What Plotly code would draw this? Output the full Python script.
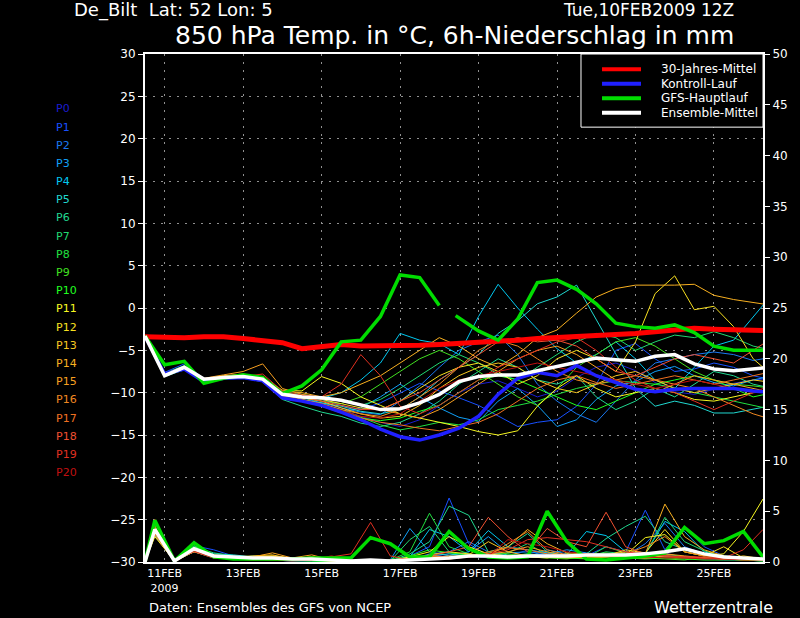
import plotly.graph_objects as go
import pandas as pd

# ---------------- data ----------------
start = pd.Timestamp("2009-02-10 12:00")
temp_hours = list(range(0, 385, 12))
precip_hours = [0] + list(range(6, 379, 12))
gfs_hours = list(range(0, 181, 12)) + [184, 190] + list(range(204, 385, 12))

member_names = ["P%d" % i for i in range(21)]
member_colors = ["#1c1cd0", "#1850ff", "#1a78f0", "#10a0f8", "#00c8f0", "#20d8d0", "#20d890",
                 "#20d870", "#20e040", "#40e020", "#20ff20", "#f8f820", "#f8e020", "#f8c820",
                 "#f8b020", "#f8a020", "#f08820", "#f07020", "#f05030", "#e03020", "#c01010"]

member_temp = [
    [-3.3,-7.8,-7.1,-8.5,-8.2,-8.0,-8.6,-10.4,-10.8,-11.3,-12.0,-12.8,-13.5,-14.0,-13.2,-11.5,-10.0,-9.0,-8.6,-9.5,-10.5,-9.8,-8.2,-7.0,-6.5,-7.4,-8.8,-9.9,-10.2,-9.6,-8.9,-8.5,-8.3],
    [-3.3,-7.6,-6.6,-8.3,-8.1,-8.1,-8.4,-10.2,-10.5,-10.8,-11.5,-12.0,-11.2,-10.0,-8.9,-9.8,-10.6,-11.5,-12.8,-14.0,-13.5,-13.2,-11.6,-9.0,-5.0,-4.2,-6.0,-7.5,-7.2,-6.5,-7.0,-8.0,-8.5],
    [-3.3,-8.0,-7.2,-8.7,-8.3,-8.2,-8.3,-10.1,-10.6,-11.2,-11.8,-12.3,-12.6,-11.0,-9.2,-7.0,-5.0,-4.0,-3.2,-5.5,-9.0,-11.0,-12.5,-13.5,-11.0,-8.5,-6.5,-6.0,-5.5,-5.2,-5.5,-6.2,-5.8],
    [-3.3,-7.9,-7.0,-8.6,-8.2,-8.0,-8.5,-10.4,-10.9,-11.5,-12.3,-11.8,-10.5,-9.0,-10.5,-11.8,-12.9,-13.4,-11.0,-9.5,-11.5,-14.0,-13.2,-10.8,-9.2,-8.7,-7.5,-6.9,-8.0,-8.8,-9.2,-8.5,-8.0],
    [-3.3,-7.8,-6.9,-8.5,-8.1,-8.0,-8.4,-10.0,-10.3,-10.7,-10.0,-8.5,-6.5,-3.0,-3.8,-4.2,-5.5,-1.0,2.8,0.0,-2.5,-4.8,-6.5,-5.5,-4.0,-6.0,-8.5,-9.5,-7.0,-4.5,-3.8,-1.0,1.7],
    [-3.3,-7.9,-7.1,-8.6,-8.3,-8.1,-8.5,-10.3,-10.8,-11.2,-11.6,-12.2,-12.5,-12.0,-10.5,-8.5,-7.0,-5.5,-3.0,-1.5,0.5,1.3,2.7,-1.4,-5.5,-9.5,-11.6,-11.0,-11.5,-12.4,-12.4,-12.0,-11.5],
    [-3.3,-8.1,-7.3,-8.8,-8.4,-8.3,-8.7,-10.8,-11.6,-12.3,-12.8,-13.6,-14.0,-13.5,-12.5,-11.0,-9.0,-7.5,-6.0,-7.0,-8.5,-9.0,-8.0,-10.5,-12.0,-11.0,-9.5,-10.5,-9.0,-7.5,-8.0,-9.0,-9.5],
    [-3.3,-7.7,-6.8,-8.4,-8.0,-7.9,-8.2,-9.9,-10.2,-10.6,-11.0,-11.5,-10.8,-9.5,-8.0,-6.5,-5.5,-6.5,-7.8,-8.5,-7.0,-5.5,-4.0,-3.0,-3.5,-5.0,-4.0,-3.2,-3.5,-2.8,-3.5,-4.5,-5.0],
    [-3.3,-7.9,-7.0,-8.6,-8.2,-8.1,-8.5,-10.5,-10.9,-11.4,-12.0,-12.9,-13.8,-14.4,-14.0,-13.5,-13.8,-13.2,-12.0,-11.5,-11.0,-10.2,-9.5,-9.0,-8.6,-8.8,-9.0,-9.4,-10.0,-10.5,-11.0,-11.5,-12.0],
    [-3.3,-7.8,-7.0,-8.5,-8.1,-8.0,-8.4,-10.2,-10.6,-11.0,-11.3,-10.5,-9.0,-7.5,-6.0,-5.0,-6.0,-7.5,-9.0,-10.5,-11.5,-9.5,-7.0,-5.5,-4.0,-3.5,-4.5,-6.0,-7.5,-8.5,-9.0,-9.2,-9.5],
    [-3.3,-8.0,-7.2,-8.7,-8.3,-8.2,-8.6,-10.5,-11.0,-11.6,-12.4,-13.0,-13.3,-13.0,-12.2,-11.5,-10.0,-8.5,-8.0,-8.5,-9.5,-10.5,-11.5,-12.0,-11.0,-10.0,-9.0,-8.5,-8.0,-8.5,-9.5,-10.5,-10.0],
    [-3.3,-7.9,-7.1,-8.6,-8.2,-8.1,-8.2,-9.7,-9.8,-8.1,-8.9,-10.5,-11.5,-12.5,-13.0,-13.5,-14.0,-14.6,-15.0,-14.5,-11.6,-9.5,-8.0,-9.5,-10.5,-10.0,-9.5,-10.0,-10.8,-11.0,-10.5,-10.0,-9.8],
    [-3.3,-7.8,-7.0,-8.5,-8.1,-8.0,-8.3,-10.0,-10.4,-10.8,-11.3,-11.8,-12.0,-11.0,-9.5,-8.0,-7.0,-6.5,-7.5,-9.0,-8.0,-6.0,-5.0,-6.0,-7.5,-4.0,1.7,3.8,-0.2,0.2,-2.2,-6.0,-8.0],
    [-3.3,-7.9,-7.1,-8.6,-8.2,-8.1,-8.5,-10.2,-10.6,-11.0,-11.8,-12.5,-13.0,-12.8,-11.5,-9.5,-8.0,-7.0,-6.5,-7.0,-8.5,-9.5,-10.0,-9.0,-8.0,-7.5,-8.5,-9.5,-10.0,-9.5,-9.0,-8.5,-8.8],
    [-3.3,-7.8,-6.9,-8.4,-8.0,-7.8,-8.2,-9.8,-10.0,-10.5,-10.0,-9.0,-8.0,-6.5,-5.0,-3.5,-4.5,-6.0,-7.0,-5.5,-3.5,-2.6,-0.6,1.3,2.3,2.7,2.7,2.7,2.8,1.5,1.0,0.6,0.3],
    [-3.3,-7.8,-6.9,-8.3,-7.9,-7.5,-6.6,-9.5,-10.2,-10.6,-11.0,-11.5,-12.0,-12.5,-13.0,-12.0,-10.5,-9.0,-7.5,-6.0,-5.0,-4.5,-5.5,-7.0,-8.5,-9.5,-10.0,-9.0,-8.0,-8.5,-9.0,-9.5,-10.0],
    [-3.3,-7.9,-7.0,-8.6,-8.2,-8.1,-8.4,-10.3,-10.8,-11.3,-12.0,-12.5,-12.8,-12.0,-10.5,-9.0,-7.0,-5.0,-3.8,-4.5,-6.0,-7.5,-8.5,-9.0,-8.5,-8.0,-8.5,-9.0,-9.5,-10.5,-11.5,-12.5,-13.2],
    [-3.3,-8.0,-7.2,-8.7,-8.3,-8.2,-8.6,-10.5,-11.0,-11.5,-12.2,-13.0,-13.5,-13.8,-14.2,-14.5,-14.0,-13.5,-12.5,-11.0,-9.5,-8.5,-8.0,-8.8,-9.5,-9.0,-8.5,-8.0,-8.5,-9.0,-8.5,-8.0,-7.5],
    [-3.3,-7.8,-7.0,-8.5,-8.1,-8.0,-8.5,-10.1,-10.5,-11.0,-11.5,-12.0,-12.0,-11.0,-10.0,-8.5,-7.0,-5.5,-4.0,-3.5,-4.0,-3.8,-4.5,-6.0,-7.5,-8.0,-7.0,-6.0,-5.5,-6.0,-6.5,-5.0,-3.5],
    [-3.3,-7.9,-7.1,-8.6,-8.2,-8.1,-7.8,-9.8,-10.3,-10.5,-9.0,-5.5,-8.0,-11.6,-12.5,-11.5,-10.0,-8.5,-7.0,-6.0,-5.0,-4.0,-3.5,-5.0,-7.0,-8.5,-9.5,-10.0,-11.0,-12.0,-11.0,-10.0,-9.5],
    [-3.3,-7.8,-7.0,-8.5,-8.2,-8.0,-8.5,-10.4,-10.9,-11.4,-12.1,-12.8,-13.0,-12.5,-11.0,-9.5,-8.5,-8.0,-7.5,-7.0,-6.5,-7.0,-7.5,-8.0,-8.5,-9.0,-9.5,-9.0,-8.5,-9.0,-9.5,-10.0,-9.0],
]

member_precip = [
    [0,3.2,0.1,1.1,0.4,0.3,0.3,0.2,0.1,0.2,0.1,0.0,0.0,0.1,0.3,0.5,0.8,0.6,0.4,0.5,1.2,0.9,0.6,0.4,0.8,0.6,0.5,0.9,0.4,0.3,0.2,0.2,0.1],
    [0,2.8,0.0,1.6,1.2,0.6,0.3,0.2,0.1,0.1,0.0,0.0,0.0,0.1,0.6,1.5,6.3,1.8,0.6,0.5,0.8,0.7,0.5,0.6,1.5,1.0,5.1,1.2,3.5,1.5,0.6,0.3,0.2],
    [0,3.0,0.2,1.2,0.5,0.4,0.3,0.2,0.3,0.4,0.2,0.1,0.0,0.0,0.2,0.8,1.0,2.0,1.0,0.6,0.5,1.2,0.8,0.6,0.5,0.6,1.8,3.8,1.5,0.8,0.4,0.3,0.2],
    [0,2.6,0.1,1.0,0.5,0.4,0.6,0.5,0.3,0.2,0.1,0.0,0.0,0.2,3.3,1.0,0.6,1.0,2.5,0.9,1.0,0.8,1.2,0.9,0.7,0.6,0.8,0.5,0.5,0.3,0.6,0.4,0.2],
    [0,3.1,0.1,1.3,0.6,0.5,0.4,0.3,0.2,0.2,0.1,0.0,0.0,0.1,0.5,3.2,2.5,1.0,3.1,1.5,1.2,0.9,0.7,3.0,2.6,1.0,0.8,4.0,3.0,1.0,0.5,0.4,0.3],
    [0,2.7,0.0,1.4,0.8,0.7,0.5,0.4,0.3,0.2,0.2,0.1,0.0,0.0,0.3,0.6,0.8,0.5,1.0,0.7,0.6,0.5,0.4,0.4,0.6,0.5,0.8,0.6,0.5,0.4,0.3,0.3,0.2],
    [0,3.4,0.2,1.5,0.9,0.6,0.4,0.3,0.2,0.2,0.1,0.1,0.0,0.1,0.8,2.0,5.5,4.6,1.0,1.5,2.8,1.0,0.6,0.8,2.3,3.5,4.5,2.0,1.2,0.8,0.6,0.4,0.3],
    [0,2.9,0.1,1.0,0.4,0.3,0.2,0.2,0.2,0.3,0.1,0.0,0.0,0.1,2.2,3.5,1.0,0.6,0.5,0.9,1.8,0.7,0.5,0.5,1.0,0.8,0.7,4.4,2.0,1.1,0.5,0.3,0.2],
    [0,3.6,0.0,1.3,0.6,0.5,0.3,0.2,0.1,0.1,0.0,0.0,0.0,0.2,1.0,4.8,1.5,0.8,0.5,0.6,0.8,0.6,0.5,0.4,1.5,0.9,0.6,0.8,0.5,0.4,0.3,0.2,0.2],
    [0,3.3,0.2,1.1,0.5,0.4,0.3,0.4,0.3,0.2,0.1,0.0,0.0,0.0,0.2,0.5,0.4,0.6,1.0,0.8,0.5,0.4,0.3,0.6,0.9,0.5,0.4,0.3,0.2,0.5,0.3,0.2,0.1],
    [0,3.9,0.1,1.6,0.7,0.5,0.3,0.2,0.2,0.1,0.1,0.0,0.0,0.1,0.6,1.2,0.9,0.7,0.5,0.4,0.6,0.5,0.4,0.3,0.5,0.4,0.3,0.4,0.3,0.2,0.2,0.2,0.1],
    [0,2.5,0.1,1.2,0.5,0.4,0.4,0.5,0.3,0.5,0.2,0.0,0.0,0.1,0.5,1.0,2.5,1.5,0.8,0.6,0.5,0.4,0.8,0.6,0.5,0.7,2.4,2.7,1.0,0.6,0.8,3.0,6.2],
    [0,3.0,0.0,1.4,0.6,0.5,0.5,0.6,0.4,0.3,0.1,0.0,0.0,0.0,0.3,0.7,1.0,0.8,0.6,0.5,0.7,0.6,0.5,0.4,0.6,1.2,0.9,3.2,1.0,0.6,1.5,0.4,0.3],
    [0,2.8,0.1,1.0,0.5,0.5,0.6,0.7,0.3,0.2,0.1,0.0,0.0,0.1,0.4,0.6,0.5,0.7,2.0,1.0,0.6,0.5,0.4,0.5,0.6,0.5,0.4,0.6,0.5,0.4,0.3,0.6,0.3],
    [0,3.1,0.2,1.3,0.7,0.5,0.4,0.6,0.3,0.5,0.2,0.1,0.0,0.1,0.2,0.4,0.6,0.5,0.8,1.5,3.2,1.8,0.9,0.8,0.7,1.0,0.8,5.7,2.5,1.2,0.6,0.4,0.3],
    [0,3.3,0.1,1.2,0.6,0.4,0.5,0.9,0.4,0.7,0.2,0.0,0.0,0.2,0.3,0.5,0.4,0.6,0.8,1.0,1.5,1.0,0.6,0.4,0.5,0.6,0.5,0.8,0.6,0.4,0.3,0.2,0.2],
    [0,2.7,0.0,1.1,0.5,0.4,0.3,0.4,0.3,0.4,0.2,0.0,0.0,0.1,0.2,0.4,0.3,0.5,0.6,1.8,3.0,1.2,0.7,0.5,0.6,0.8,1.5,2.5,1.0,0.6,0.4,0.3,0.3],
    [0,3.5,0.1,1.4,0.6,0.4,0.3,0.3,0.2,0.3,0.4,0.1,0.0,0.1,0.3,0.6,0.5,0.6,1.0,1.4,1.2,0.8,0.6,0.5,0.6,0.5,0.4,0.5,0.4,0.4,0.3,0.3,0.2],
    [0,3.0,0.2,1.0,0.4,0.3,0.2,0.3,0.2,0.2,0.3,0.1,0.0,0.0,0.3,0.6,1.0,1.5,4.4,2.5,1.0,3.3,2.0,1.5,4.9,1.5,0.8,0.6,0.5,0.4,0.3,0.4,0.3],
    [0,4.2,0.0,1.3,0.5,0.4,0.3,0.2,0.2,0.3,0.5,0.8,3.9,0.6,0.2,0.4,0.3,0.5,0.8,1.2,2.2,2.4,2.2,2.0,1.5,1.0,0.8,0.6,0.5,0.5,0.4,1.2,3.2],
    [0,2.9,0.1,1.1,0.4,0.3,0.2,0.2,0.1,0.2,0.6,0.2,0.0,0.1,0.2,0.3,0.4,0.5,0.6,2.2,1.8,1.5,1.0,0.8,0.7,0.6,0.5,0.4,0.4,0.3,0.3,0.2,0.2],
]

climate_temp = [-3.4,-3.5,-3.5,-3.4,-3.4,-3.6,-3.8,-4.1,-4.8,-4.6,-4.3,-4.5,-4.5,-4.5,-4.4,-4.3,-4.2,
                -4.1,-4.0,-3.8,-3.6,-3.5,-3.3,-3.2,-3.1,-3.0,-2.8,-2.6,-2.4,-2.5,-2.6,-2.6,-2.7]
control_temp = [-3.3,-7.8,-7.2,-8.7,-8.3,-8.2,-8.6,-10.6,-11.0,-11.5,-12.3,-13.2,-14.3,-15.2,-15.6,-15.0,-14.2,
                -12.8,-10.2,-8.3,-7.6,-8.0,-6.8,-8.0,-8.8,-9.6,-9.9,-9.6,-9.5,-9.5,-9.5,-9.8,-10.0]
gfs_temp = [-3.3,-6.7,-6.3,-8.9,-8.3,-7.9,-8.2,-10.1,-9.2,-7.3,-4.0,-3.8,-1.0,3.9,3.6,0.3,None,-0.9,
            -2.7,-3.8,-1.3,3.0,3.3,2.2,0.5,-1.8,-2.2,-2.4,-2.0,-2.9,-4.5,-5.0,-5.0,-5.0]
mean_temp = [-3.3,-8.0,-7.0,-8.4,-8.2,-8.1,-8.4,-10.2,-10.5,-10.6,-10.9,-11.5,-12.0,-11.9,-11.2,-10.2,-8.7,
             -8.1,-7.9,-7.9,-7.4,-6.9,-6.3,-5.9,-6.1,-6.3,-5.7,-5.5,-6.6,-7.2,-7.4,-7.2,-7.0]
gfs_precip = [0,4.1,0.1,1.9,0.5,0.3,0.3,0.3,0.3,0.4,0.4,0.4,2.4,1.8,0.5,0.5,3.0,1.3,0.5,0.4,0.5,5.0,2.0,
              0.3,0.2,0.4,0.6,0.9,3.4,1.8,2.1,3.0,0.5]
mean_precip = [0,3.2,0.1,1.3,0.6,0.5,0.4,0.4,0.3,0.3,0.2,0.1,0.2,0.1,0.2,0.3,0.4,0.6,0.6,0.5,0.6,0.6,0.6,
               0.7,0.7,0.7,0.8,1.0,1.3,0.8,0.5,0.4,0.3]

legend_labels = ["30-Jahres-Mittel", "Kontroll-Lauf", "GFS-Hauptlauf", "Ensemble-Mittel"]
legend_colors = ["#ff0000", "#2020ff", "#00dd00", "#ffffff"]

xtick_dates = ["2009-02-11", "2009-02-13", "2009-02-15", "2009-02-17", "2009-02-19",
               "2009-02-21", "2009-02-23", "2009-02-25"]
xtick_text = ["11FEB<br>2009", "13FEB", "15FEB", "17FEB", "19FEB", "21FEB", "23FEB", "25FEB"]

# ---------------- figure ----------------
def to_dates(hours):
    return [start + pd.Timedelta(hours=h) for h in hours]

tx = to_dates(temp_hours)
px = to_dates(precip_hours)
gx = to_dates(gfs_hours)

fig = go.Figure()
for name, col, t, p in zip(member_names, member_colors, member_temp, member_precip):
    fig.add_trace(go.Scatter(x=tx, y=t, mode="lines", line=dict(color=col, width=1),
                             name=name, showlegend=False, hoverinfo="skip"))
    fig.add_trace(go.Scatter(x=px, y=p, mode="lines", line=dict(color=col, width=1),
                             name=name, showlegend=False, hoverinfo="skip", yaxis="y2"))

fig.add_trace(go.Scatter(x=tx, y=control_temp, mode="lines", line=dict(color=legend_colors[1], width=3.5),
                         showlegend=False, hoverinfo="skip"))
fig.add_trace(go.Scatter(x=tx, y=climate_temp, mode="lines", line=dict(color=legend_colors[0], width=5),
                         showlegend=False, hoverinfo="skip"))
fig.add_trace(go.Scatter(x=px, y=gfs_precip, mode="lines", line=dict(color=legend_colors[2], width=3.5),
                         showlegend=False, hoverinfo="skip", yaxis="y2"))
fig.add_trace(go.Scatter(x=gx, y=gfs_temp, mode="lines", line=dict(color=legend_colors[2], width=3.5),
                         showlegend=False, hoverinfo="skip", connectgaps=False))
fig.add_trace(go.Scatter(x=px, y=mean_precip, mode="lines", line=dict(color=legend_colors[3], width=3.5),
                         showlegend=False, hoverinfo="skip", yaxis="y2"))
fig.add_trace(go.Scatter(x=tx, y=mean_temp, mode="lines", line=dict(color=legend_colors[3], width=3.5),
                         showlegend=False, hoverinfo="skip"))

FONT = "DejaVu Sans"
fig.update_layout(
    width=800, height=618,
    paper_bgcolor="black", plot_bgcolor="black",
    margin=dict(l=145, r=37, t=54, b=56),
    font=dict(family=FONT, color="white", size=11),
    showlegend=False,
    xaxis=dict(type="date", range=[start, start + pd.Timedelta(hours=378)],
               tickvals=xtick_dates, ticktext=xtick_text, ticks="",
               showgrid=True, gridcolor="#909090", gridwidth=1, griddash="2px,6px",
               showline=True, linecolor="white", linewidth=2, mirror=True,
               zeroline=False, tickfont=dict(size=11, color="white")),
    yaxis=dict(range=[-30, 30], dtick=5, tick0=-30, ticks="outside", ticklen=5,
               tickcolor="white", tickwidth=1,
               showgrid=True, gridcolor="#909090", gridwidth=1, griddash="2px,6px",
               showline=True, linecolor="white", linewidth=2, zeroline=False,
               tickfont=dict(size=12, color="white")),
    yaxis2=dict(range=[0, 50], dtick=5, tick0=0, overlaying="y", side="right",
                ticks="outside", ticklen=5, tickcolor="white", tickwidth=1,
                showgrid=False, showline=True, linecolor="white", linewidth=2,
                zeroline=False, tickfont=dict(size=12, color="white")),
)

# ensemble member labels on the left
for i, (name, col) in enumerate(zip(member_names, member_colors)):
    fig.add_annotation(text=name, xref="paper", yref="paper", x=-0.147, y=0.892 - i * 0.0358,
                       xanchor="left", yanchor="middle", showarrow=False,
                       font=dict(family=FONT, size=11, color=col))

# legend box (drawn manually)
fig.add_shape(type="rect", xref="paper", yref="paper", x0=0.7055, x1=1.0, y0=0.856, y1=1.0,
              line=dict(color="white", width=1), fillcolor="black", layer="above")
for i, (lab, col) in enumerate(zip(legend_labels, legend_colors)):
    yy = 0.970 - i * 0.0285
    fig.add_shape(type="line", xref="paper", yref="paper", x0=0.7395, x1=0.8026, y0=yy, y1=yy,
                  line=dict(color=col, width=4), layer="above")
    fig.add_annotation(text=lab, xref="paper", yref="paper", x=0.8317, y=yy,
                       xanchor="left", yanchor="middle", showarrow=False,
                       font=dict(family=FONT, size=12, color="white"))

# titles and footers
fig.add_annotation(text="De_Bilt  Lat: 52 Lon: 5", xref="paper", yref="paper",
                   x=(73 - 145) / 618, y=(562 - 10) / 508, xanchor="left", yanchor="middle",
                   showarrow=False, borderpad=0, font=dict(family=FONT, size=18, color="white"))
fig.add_annotation(text="Tue,10FEB2009 12Z", xref="paper", yref="paper",
                   x=(735 - 145) / 618, y=(562 - 10) / 508, xanchor="right", yanchor="middle",
                   showarrow=False, borderpad=0, font=dict(family=FONT, size=17, color="white"))
fig.add_annotation(text="850 hPa Temp. in °C, 6h-Niederschlag in mm", xref="paper", yref="paper",
                   x=(454 - 145) / 618, y=(562 - 35) / 508, xanchor="center", yanchor="middle",
                   showarrow=False, borderpad=0, font=dict(family=FONT, size=25, color="white"))
fig.add_annotation(text="Daten: Ensembles des GFS von NCEP", xref="paper", yref="paper",
                   x=(147 - 145) / 618, y=(562 - 607) / 508, xanchor="left", yanchor="middle",
                   showarrow=False, font=dict(family=FONT, size=13, color="white"))
fig.add_annotation(text="Wetterzentrale", xref="paper", yref="paper",
                   x=(775 - 145) / 618, y=(562 - 607) / 508, xanchor="right", yanchor="middle",
                   showarrow=False, font=dict(family=FONT, size=16, color="white"))

fig.write_html(
    "out.html",
    config={"displayModeBar": False},
    post_script="document.body.style.margin='0';document.body.style.background='black';"
                "document.body.style.overflow='hidden';"
                "document.documentElement.style.background='black';",
)
